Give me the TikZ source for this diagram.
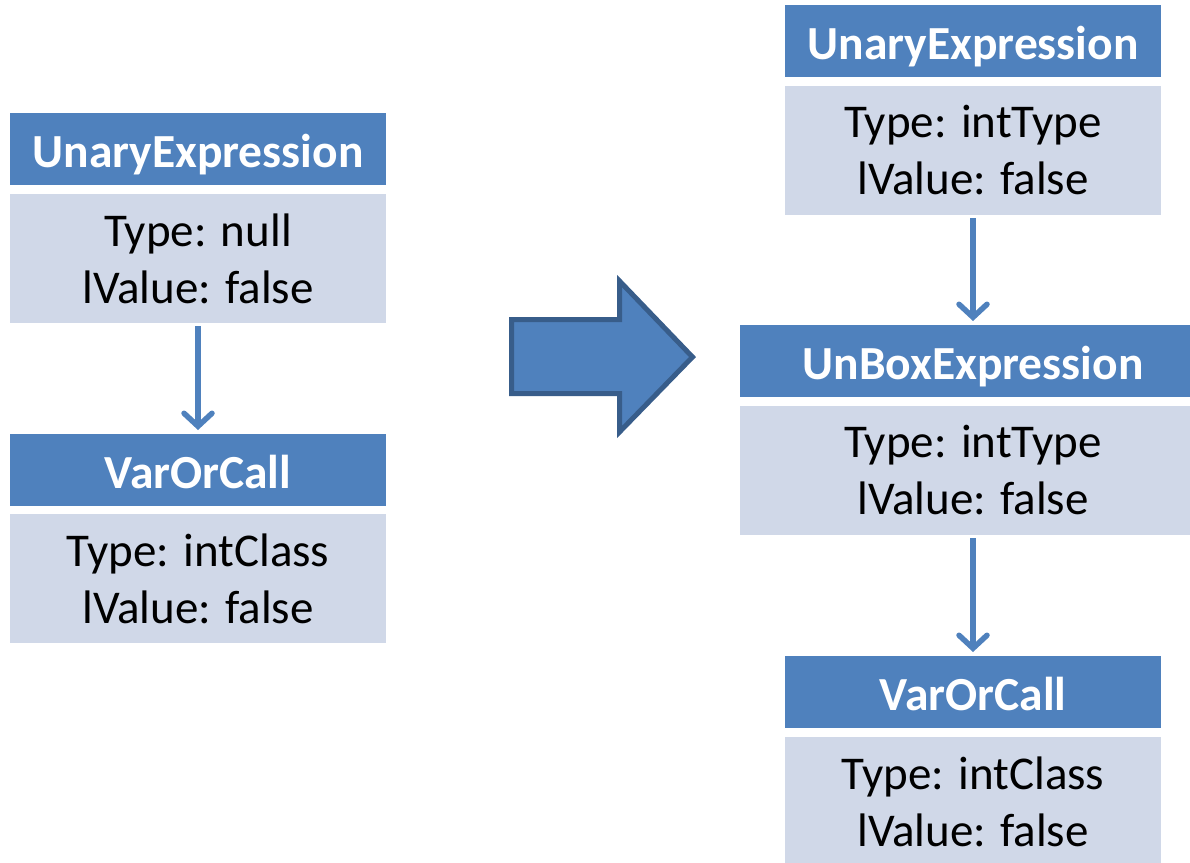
\documentclass[tikz,border=0pt]{standalone}
\usepackage{fontspec}
\setmainfont{Carlito}
\usetikzlibrary{arrows.meta}
\definecolor{hdrblue}{HTML}{4F81BD}
\definecolor{bodyblue}{HTML}{D0D8E8}
\definecolor{bigstroke}{HTML}{385D8A}
\tikzset{
  hdr/.style={rectangle, fill=hdrblue, draw=none, inner sep=0pt, outer sep=0pt,
    minimum height=72pt, anchor=north, text=white, text height=40pt, text depth=4pt,
    font=\fontsize{47.5}{56}\selectfont\bfseries},
  bodybox/.style={rectangle, fill=bodyblue, draw=none, inner sep=0pt, outer sep=0pt,
    minimum height=129pt, anchor=north, align=center, text=black,
    font=\fontsize{47}{57}\selectfont},
  conn/.style={draw=hdrblue, line width=5.5pt, shorten <=3pt, shorten >=4pt,
    -{Straight Barb[length=13pt,width=28pt,line cap=round]}},
  bigarrow/.style={fill=hdrblue, draw=bigstroke, line width=5pt, line join=miter}
}
\begin{document}
\begin{tikzpicture}[x=1pt,y=-1pt]
\useasboundingbox (0,0) rectangle (1190,862);
\clip (0,0) rectangle (1190,862);
% left column
\node[hdr, minimum width=376pt] (lh1) at (198,113) {UnaryExpression};
\node[bodybox, minimum width=376pt] (lb1) at (198,194) {Type: null\\lValue: false};
\node[hdr, minimum width=376pt] (lh2) at (198,434) {VarOrCall};
\node[bodybox, minimum width=376pt] (lb2) at (198,514) {Type: intClass\\lValue: false};
\draw[conn] (lb1.south) -- (lh2.north);
% big arrow
\draw[bigarrow] (511.5,319.5) -- (619.5,319.5) -- (619.5,281) -- (692.5,357) -- (619.5,432) -- (619.5,393.5) -- (511.5,393.5) -- cycle;
% right column
\node[hdr, minimum width=376pt] (rh1) at (973,5) {UnaryExpression};
\node[bodybox, minimum width=376pt] (rb1) at (973,86) {Type: intType\\lValue: false};
\node[hdr, minimum width=466pt] (rh2) at (973,325) {UnBoxExpression};
\node[bodybox, minimum width=466pt] (rb2) at (973,406) {Type: intType\\lValue: false};
\node[hdr, minimum width=376pt] (rh3) at (973,656) {VarOrCall};
\node[bodybox, minimum width=376pt] (rb3) at (973,737) {Type: intClass\\lValue: false};
\draw[conn] (rb1.south) -- (rh2.north);
\draw[conn] (rb2.south) -- (rh3.north);
\end{tikzpicture}
\end{document}
